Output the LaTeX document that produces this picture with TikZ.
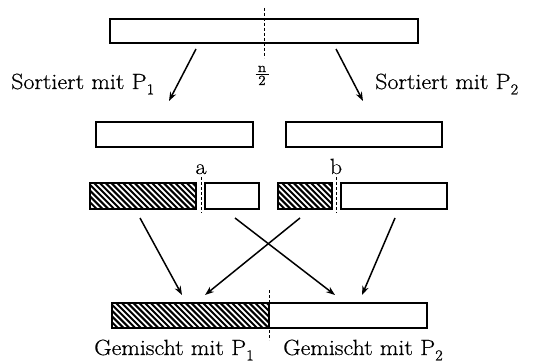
\documentclass[tikz,border=0pt]{standalone}
\usepackage{fontspec}
\setmainfont[FakeStretch=1.09,FakeBold=0.5]{Latin Modern Roman}
\usetikzlibrary{arrows.meta}
\newcommand{\subn}[1]{\raisebox{-0.24em}{\fontsize{15}{16}\selectfont #1}}
\begin{document}
\begin{tikzpicture}[x=1pt,y=-1pt,
  bar/.style={draw,line width=1.6pt,rectangle,inner sep=0pt},
  hatch/.style={bar,path picture={
    \foreach \i in {-12,...,40}
      \draw[line width=2pt] ([xshift=\i*5.8pt,yshift=4pt]path picture bounding box.north west) -- ++(40pt,-40pt);}},
  arr/.style={line width=1.5pt,-{Stealth[length=9pt,width=6.5pt]}},
  cut/.style={line width=0.8pt,dash pattern=on 3pt off 2pt},
  lbl/.style={font=\fontsize{22}{26}\selectfont,inner sep=0pt},
  frac/.style={font=\fontsize{14}{16}\selectfont,inner sep=0pt}]
\useasboundingbox (0,0) rectangle (534,363);
% top bar
\node[bar,minimum width=308pt,minimum height=24pt] (top) at (264,31) {};
\coordinate (topcutA) at (264,8);
\coordinate (topcutB) at (264,58);
\draw[cut] (topcutA) -- (topcutB);
\node[frac,anchor=base] (hn) at (262,72) {n};
\node[frac,anchor=base] (h2) at (262,85) {2};
\coordinate (hl1) at (255.5,74.5); \coordinate (hl2) at (268.5,74.5);
\draw[line width=0.7pt] (hl1) -- (hl2);
% sorted arrows
\coordinate (s1a) at (196,49); \coordinate (s1b) at (169,101);
\coordinate (s2a) at (336,49); \coordinate (s2b) at (363,101);
\draw[arr] (s1a) -- (s1b);
\draw[arr] (s2a) -- (s2b);
\node[lbl,anchor=base west] (lsort) at (11,89) {Sortiert mit P\subn{1}};
\node[lbl,anchor=base west] (rsort) at (375,89) {Sortiert mit P\subn{2}};
% second row
\node[bar,minimum width=157pt,minimum height=25pt] (left) at (174.5,134.5) {};
\node[bar,minimum width=156pt,minimum height=25pt] (right) at (364,134.5) {};
% third row
\node[hatch,minimum width=106pt,minimum height=26pt] (ha) at (143,196) {};
\node[bar,minimum width=54pt,minimum height=26pt] (wa) at (232,196) {};
\node[hatch,minimum width=54pt,minimum height=26pt] (hb) at (305,196) {};
\node[bar,minimum width=106pt,minimum height=26pt] (wb) at (394,196) {};
\coordinate (ca1) at (201,177); \coordinate (ca2) at (201,213);
\coordinate (cb1) at (336,177); \coordinate (cb2) at (336,213);
\draw[cut] (ca1) -- (ca2);
\draw[cut] (cb1) -- (cb2);
\node[lbl,anchor=base] (la) at (201,174) {a};
\node[lbl,anchor=base] (lb) at (336,174) {b};
% merge arrows
\coordinate (m1a) at (140,218); \coordinate (m1b) at (182,295);
\coordinate (m2a) at (235,218); \coordinate (m2b) at (335,295);
\coordinate (m3a) at (300,218); \coordinate (m3b) at (205,295);
\coordinate (m4a) at (395,218); \coordinate (m4b) at (362,295);
\draw[arr] (m1a) -- (m1b);
\draw[arr] (m2a) -- (m2b);
\draw[arr] (m3a) -- (m3b);
\draw[arr] (m4a) -- (m4b);
% bottom bar
\node[hatch,minimum width=157pt,minimum height=25pt] (bh) at (190.5,315.5) {};
\node[bar,minimum width=158pt,minimum height=25pt] (bw) at (348,315.5) {};
\coordinate (bc1) at (269,290); \coordinate (bc2) at (269,340);
\draw[cut] (bc1) -- (bc2);
\node[lbl,anchor=base west] (lmix) at (94,355) {Gemischt mit P\subn{1}};
\node[lbl,anchor=base west] (rmix) at (283,355) {Gemischt mit P\subn{2}};
\end{tikzpicture}
\end{document}
